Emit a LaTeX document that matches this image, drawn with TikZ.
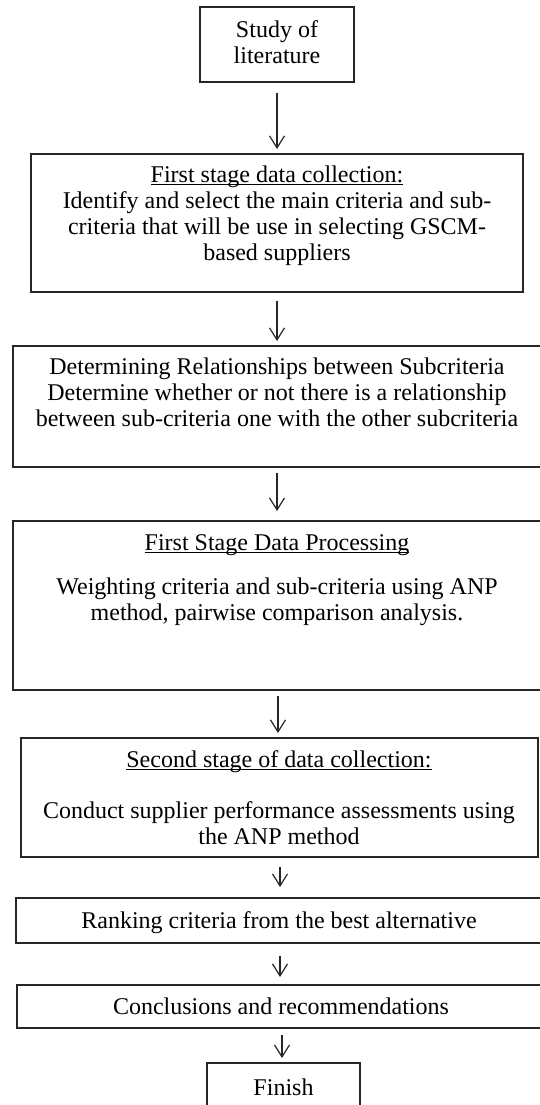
\documentclass[tikz,border=0pt]{standalone}
\usepackage{fontspec}
\setmainfont{Liberation Serif}
\usetikzlibrary{arrows.meta,calc}
\newsavebox\ulbox
\newcommand\myul[1]{\sbox\ulbox{#1}\rlap{\rule[-3.2pt]{\wd\ulbox}{1.1pt}}\usebox\ulbox}
\tikzset{
  box/.style={draw=black!85, line width=1.2pt, rectangle, inner sep=0pt, outer sep=0pt},
  txt/.style={font=\fontsize{24}{26}\selectfont, align=center, inner sep=0pt, outer sep=0pt, text=black},
  arr/.style={draw=black!85, line width=1.2pt, -{Straight Barb[length=12pt,width=15pt]}},
}
\begin{document}
\begin{tikzpicture}[x=1pt,y=-1pt]
\useasboundingbox (0,0) rectangle (540,1105);
\fill[white] (0,0) rectangle (540,1105);
\clip (0,0) rectangle (540,1105);
% boxes
\node[box, minimum width=154pt, minimum height=75pt]  (b1) at (277,44.5) {};
\node[box, minimum width=492pt, minimum height=138pt] (b2) at (277,223) {};
\node[box, minimum width=528pt, minimum height=121pt] (b3) at (277,406.5) {};
\node[box, minimum width=528pt, minimum height=169pt] (b4) at (277,605.5) {};
\node[box, minimum width=517pt, minimum height=119pt] (b5) at (279.5,797.5) {};
\node[box, minimum width=526pt, minimum height=45pt]  (b6) at (279,920.5) {};
\node[box, minimum width=526pt, minimum height=43pt]  (b7) at (280,1006.5) {};
\node[box, minimum width=153pt, minimum height=57pt]  (b8) at (283.5,1091.5) {};
% texts
\node[txt, anchor=north] (t1) at (277,19.8) {\strut Study of\\literature};
\node[txt, anchor=north] (t2) at (277,163.8) {\strut\myul{First stage data collection:}\\Identify and select the main criteria and sub-\\criteria that will be use in selecting GSCM-\\based suppliers};
\node[txt, anchor=north] (t3) at (277,355.8) {\strut Determining Relationships between Subcriteria\\Determine whether or not there is a relationship\\between sub-criteria one with the other subcriteria};
\node[txt, anchor=north] (t4) at (277,531.8) {\strut\myul{First Stage Data Processing}\\[18pt]Weighting criteria and sub-criteria using ANP\\method, pairwise comparison analysis.};
\node[txt, anchor=north] (t5) at (279,748.8) {\strut\myul{Second stage of data collection:}\\[25pt]Conduct supplier performance assessments using\\the ANP method};
\node[txt, anchor=base] (t6) at (279,928) {Ranking criteria from the best alternative};
\node[txt, anchor=base] (t7) at (281,1014.5) {Conclusions and recommendations};
\node[txt, anchor=base] (t8) at (283.5,1095) {Finish};
% arrows
\draw[arr] ($(b1.south)+(0,11)$) -- ($(b1.south|-b2.north)+(0,-5)$);
\draw[arr] ($(b2.south)+(0,9)$) -- ($(b2.south|-b3.north)+(0,-5)$);
\draw[arr] ($(b3.south)+(0,6)$) -- ($(b3.south|-b4.north)+(0,-10)$);
\draw[arr] ($(b4.south)+(1,6)$) -- ($(b4.south|-b5.north)+(1,-5)$);
\draw[arr] ($(b5.south)+(0.5,10)$) -- ($(b5.south|-b6.north)+(0.5,-11)$);
\draw[arr] ($(b6.south)+(1,13)$) -- ($(b6.south|-b7.north)+(1,-8)$);
\draw[arr] ($(b7.south)+(2,7)$) -- ($(b7.south|-b8.north)+(2,-5)$);
\end{tikzpicture}
\end{document}
